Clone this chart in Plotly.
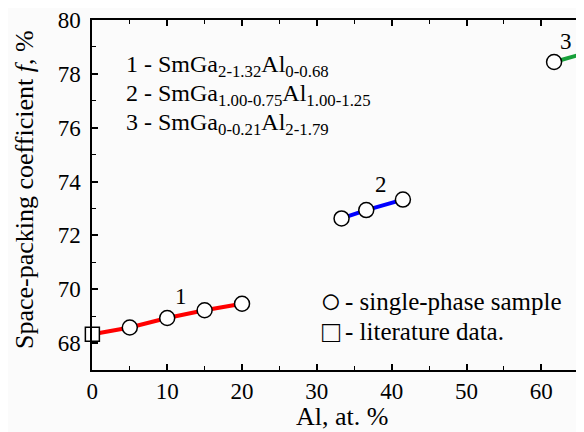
import plotly.graph_objects as go

# Data
al_lit = [0]
f_lit = [68.33]

al_1 = [5, 10, 15, 20]
f_1 = [68.58, 68.93, 69.22, 69.46]

al_2 = [33.3, 36.6, 41.5]
f_2 = [72.63, 72.94, 73.33]

al_3 = [61.7, 66.4]
f_3 = [78.44, 78.81]

series_labels = ["1", "2", "3"]
label_pos_x = [11.9, 38.6, 63.3]
label_pos_y = [69.72, 73.9, 79.22]

formula_lines = [
    "1 - SmGa<sub>2-1.32</sub>Al<sub>0-0.68</sub>",
    "2 - SmGa<sub>1.00-0.75</sub>Al<sub>1.00-1.25</sub>",
    "3 - SmGa<sub>0-0.21</sub>Al<sub>2-1.79</sub>",
]
key_symbols = ["○", "□"]
key_lines = ["- single-phase sample", "- literature data."]

FONT = "Liberation Serif"
RED, BLUE, GREEN = "#ff0000", "#0000ff", "#17a03a"

# page has an 8px body margin; figure sized so that it ends at the window edge
W, H = 576, 424
L, T = 84, 12
B = 62
PW, PH = W - L, H - T - B  # 492 x 350


def px_x(p):  # reference-window pixel -> paper coordinate
    return (p - 92) / PW


def px_y(p):
    return (370 - p) / PH


fig = go.Figure()

mk_circle = dict(symbol="circle", size=15, color="white", line=dict(color="black", width=1.5))
mk_square = dict(symbol="square", size=14, color="white", line=dict(color="black", width=1.5))

fig.add_trace(go.Scatter(x=al_lit + al_1, y=f_lit + f_1, mode="lines",
                         line=dict(color=RED, width=4), showlegend=False, hoverinfo="skip"))
fig.add_trace(go.Scatter(x=al_2, y=f_2, mode="lines",
                         line=dict(color=BLUE, width=4), showlegend=False, hoverinfo="skip"))
fig.add_trace(go.Scatter(x=al_3, y=f_3, mode="lines",
                         line=dict(color=GREEN, width=4), showlegend=False, hoverinfo="skip"))
fig.add_trace(go.Scatter(x=al_1 + al_2 + al_3, y=f_1 + f_2 + f_3, mode="markers",
                         marker=mk_circle, name="single-phase sample", showlegend=False))
fig.add_trace(go.Scatter(x=al_lit, y=f_lit, mode="markers",
                         marker=mk_square, name="literature data", showlegend=False,
                         cliponaxis=False))

annotations = []
for lab, lx, ly in zip(series_labels, label_pos_x, label_pos_y):
    annotations.append(dict(x=lx, y=ly, xref="x", yref="y", text=lab, showarrow=False,
                            font=dict(family=FONT, size=23, color="black")))

for i, t in enumerate(formula_lines):
    annotations.append(dict(x=px_x(124), y=px_y(66 + 29 * i), xref="paper", yref="paper",
                            xanchor="left", yanchor="middle", text=t, showarrow=False,
                            font=dict(family=FONT, size=24, color="black")))

key_sizes = [36, 30]
for i, (s, t) in enumerate(zip(key_symbols, key_lines)):
    yc = 301 + 30 * i
    annotations.append(dict(x=px_x(331), y=px_y(yc), xref="paper", yref="paper",
                            xanchor="center", yanchor="middle", text=s, showarrow=False,
                            font=dict(family=FONT, size=key_sizes[i], color="black")))
    annotations.append(dict(x=px_x(343), y=px_y(yc), xref="paper", yref="paper",
                            xanchor="left", yanchor="middle", text=t, showarrow=False,
                            font=dict(family=FONT, size=25, color="black")))

annotations.append(dict(x=px_x(342), y=px_y(416), xref="paper", yref="paper",
                        xanchor="center", yanchor="middle", text="Al, at. %", showarrow=False,
                        font=dict(family=FONT, size=26, color="black")))
annotations.append(dict(x=px_x(24), y=px_y(190), xref="paper", yref="paper",
                        xanchor="center", yanchor="middle", textangle=-90,
                        text="Space-packing coefficient <i>f</i>, %", showarrow=False,
                        font=dict(family=FONT, size=26, color="black")))

fig.update_layout(
    width=W, height=H,
    margin=dict(l=L, r=0, t=T, b=B, autoexpand=False),
    paper_bgcolor="#fbfbfb", plot_bgcolor="#fbfbfb",
    font=dict(family=FONT, size=22, color="black"),
    annotations=annotations,
    showlegend=False,
)

fig.update_xaxes(range=[-0.05, 65.7], dtick=10, tick0=0, showgrid=False, zeroline=False,
                 showline=True, linecolor="black", linewidth=1.5, mirror="ticks",
                 ticks="inside", ticklen=6, tickwidth=1.5, tickcolor="black", automargin=False,
                 minor=dict(dtick=5, ticks="inside", ticklen=4, tickwidth=1.2, tickcolor="black"),
                 tickfont=dict(family=FONT, size=23, color="black"), ticklabelstandoff=0)
fig.update_yaxes(range=[67, 80], dtick=2, tick0=68, showgrid=False, zeroline=False,
                 showline=True, linecolor="black", linewidth=1.5, automargin=False,
                 ticks="inside", ticklen=6, tickwidth=1.5, tickcolor="black",
                 minor=dict(dtick=1, ticks="inside", ticklen=4, tickwidth=1.2, tickcolor="black"),
                 tickfont=dict(family=FONT, size=23, color="black"), ticklabelstandoff=5)

fig.write_html("out.html")
